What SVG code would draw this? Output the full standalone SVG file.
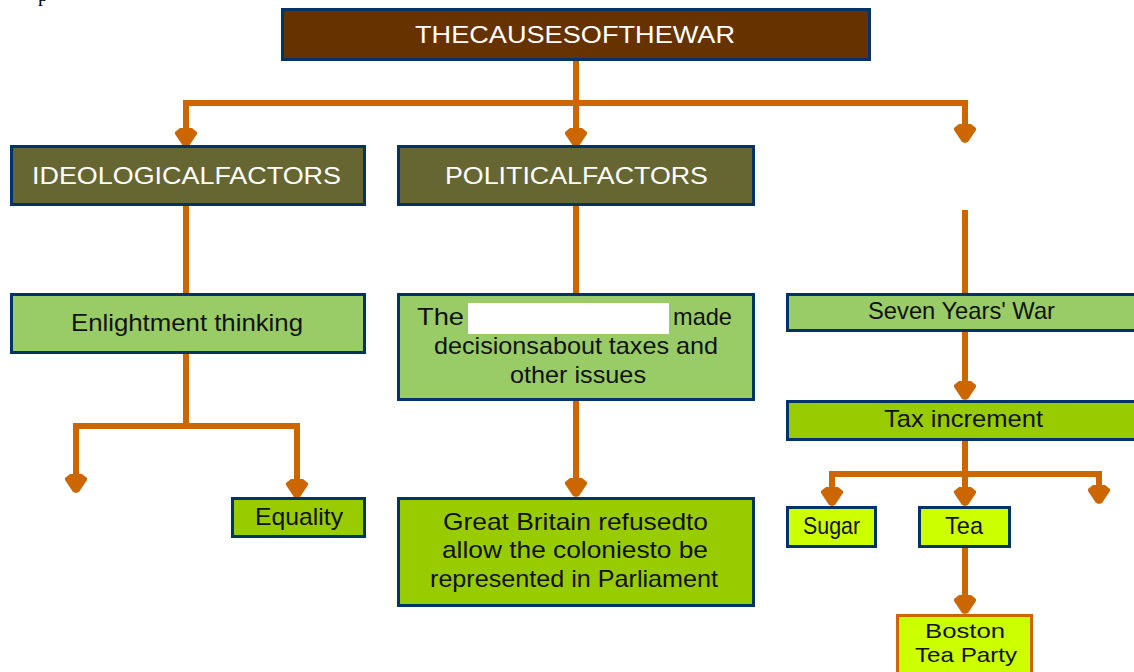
<svg xmlns="http://www.w3.org/2000/svg" xmlns:xlink="http://www.w3.org/1999/xlink" width="1134" height="672" viewBox="0 0 1134 672">
<defs>
<style>
.box{stroke:#003366;stroke-width:3}
.title{fill:#663300}
.hdr{fill:#666633}
.lg{fill:#99CC66}
.g{fill:#99CC00}
.lime{fill:#CCFF00}
.conn{fill:none;stroke:#CC6600;stroke-width:6;stroke-linejoin:miter;stroke-linecap:butt}
.ah{fill:#CC6600}
text{font-family:"Liberation Sans",Arial,sans-serif;font-size:24px;fill:#111111;text-anchor:middle}
.wt{fill:#FFFFFF}
.sm{font-size:21px}
</style>
<path id="ah" d="M-6,-19 L-11,-15 L-11,-13 L-3,-1 L0,0 L3,-1 L11,-13 L11,-15 L6,-19 Z"/>
</defs>
<rect width="1134" height="672" fill="#FFFFFF"/>
<text x="38" y="1" style="font-family:'Liberation Serif',serif;font-size:20px;text-anchor:start;fill:#000">p</text>

<g id="connectors">
<path class="conn" d="M576,61 V141"/>
<path class="conn" d="M186,141 V103 H965 V137"/>
<path class="conn" d="M965,210 V293"/>
<path class="conn" d="M186,206 V293"/>
<path class="conn" d="M76,487 V426 H297 V492 M186,354 V426"/>
<path class="conn" d="M576,206 V293"/>
<path class="conn" d="M576,401 V491"/>
<path class="conn" d="M965,332 V394"/>
<path class="conn" d="M965,441 V500 M832,500 V474 H1099 V498"/>
<path class="conn" d="M965,548 V608"/>
<g class="ah">
<use xlink:href="#ah" x="186" y="147"/>
<use xlink:href="#ah" x="576" y="147"/>
<use xlink:href="#ah" x="965" y="143"/>
<use xlink:href="#ah" x="76" y="493"/>
<use xlink:href="#ah" x="297" y="498"/>
<use xlink:href="#ah" x="576" y="497"/>
<use xlink:href="#ah" x="965" y="400"/>
<use xlink:href="#ah" x="832" y="506"/>
<use xlink:href="#ah" x="965" y="506"/>
<use xlink:href="#ah" x="1099" y="504"/>
<use xlink:href="#ah" x="965" y="614"/>
</g>
</g>

<g id="title">
<rect class="box title" x="282.5" y="9.5" width="587" height="50"/>
<text class="wt" x="575" y="43" font-size="25" textLength="320" lengthAdjust="spacingAndGlyphs">THECAUSESOFTHEWAR</text>
</g>
<g id="ideological">
<rect class="box hdr" x="11.5" y="146.5" width="353" height="58"/>
<text class="wt" x="186.5" y="184" textLength="309" lengthAdjust="spacingAndGlyphs">IDEOLOGICALFACTORS</text>
</g>
<g id="political">
<rect class="box hdr" x="398.5" y="146.5" width="355" height="58"/>
<text class="wt" x="576.5" y="184" textLength="263" lengthAdjust="spacingAndGlyphs">POLITICALFACTORS</text>
</g>
<g id="enlightment">
<rect class="box lg" x="11.5" y="294.5" width="353" height="58"/>
<text x="187" y="331" textLength="232" lengthAdjust="spacingAndGlyphs">Enlightment thinking</text>
</g>
<g id="equality">
<rect class="box g" x="232.5" y="498.5" width="132" height="38"/>
<text x="299" y="525" textLength="88" lengthAdjust="spacingAndGlyphs">Equality</text>
</g>
<g id="decisions">
<rect class="box lg" x="398.5" y="294.5" width="355" height="105"/>
<rect x="468" y="303" width="201" height="31" fill="#FFFFFF"/>
<text x="440.5" y="325" textLength="47" lengthAdjust="spacingAndGlyphs">The</text>
<text x="702.5" y="325" textLength="59" lengthAdjust="spacingAndGlyphs">made</text>
<text x="576" y="354" textLength="284" lengthAdjust="spacingAndGlyphs">decisionsabout taxes and</text>
<text x="578" y="383" textLength="136" lengthAdjust="spacingAndGlyphs">other issues</text>
</g>
<g id="refused">
<rect class="box g" x="398.5" y="498.5" width="355" height="107"/>
<text x="575.5" y="530" textLength="265" lengthAdjust="spacingAndGlyphs">Great Britain refusedto</text>
<text x="575" y="558" textLength="266" lengthAdjust="spacingAndGlyphs">allow the coloniesto be</text>
<text x="574" y="587" textLength="288" lengthAdjust="spacingAndGlyphs">represented in Parliament</text>
</g>
<g id="sevenyears">
<rect class="box lg" x="787.5" y="294.5" width="360" height="36"/>
<text x="961.5" y="319" textLength="187" lengthAdjust="spacingAndGlyphs">Seven Years' War</text>
</g>
<g id="tax">
<rect class="box g" x="787.5" y="401.5" width="360" height="38"/>
<text x="963.5" y="427" textLength="159" lengthAdjust="spacingAndGlyphs">Tax increment</text>
</g>
<g id="sugar">
<rect class="box lime" x="787.5" y="507.5" width="88" height="39"/>
<text x="831.5" y="534" textLength="57" lengthAdjust="spacingAndGlyphs">Sugar</text>
</g>
<g id="tea">
<rect class="box lime" x="919.5" y="507.5" width="90" height="39"/>
<text x="964" y="534" textLength="38" lengthAdjust="spacingAndGlyphs">Tea</text>
</g>
<g id="boston">
<rect class="lime" x="897.5" y="615.5" width="134" height="70" stroke="#CC6600" stroke-width="3"/>
<text class="sm" x="965" y="638" textLength="80" lengthAdjust="spacingAndGlyphs">Boston</text>
<text class="sm" x="966" y="662" textLength="102" lengthAdjust="spacingAndGlyphs">Tea Party</text>
</g>
</svg>
